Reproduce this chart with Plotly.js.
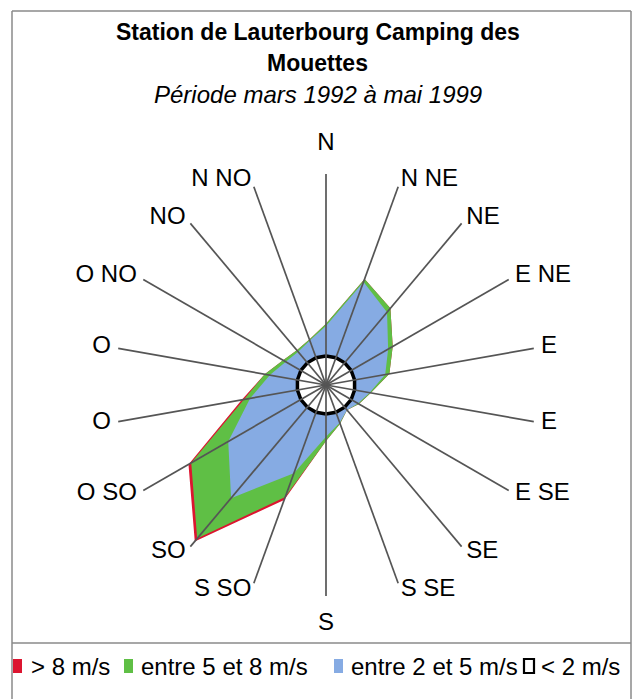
<!DOCTYPE html>
<html>
<head>
<meta charset="utf-8">
<script src="https://cdn.plot.ly/plotly-3.0.1.min.js"></script>
<style>html,body{margin:0;padding:0;background:#fff;}#chart{width:635px;height:700px;}</style>
</head>
<body>
<div id="chart"></div>
<script>
// Directions (degrees, clockwise from north) and their labels
const angles = [0, 20, 40, 60, 80, 100, 120, 140, 160, 180, 200, 220, 240, 260, 280, 300, 320, 340];
const dirLabels = ['N', 'N NE', 'NE', 'E NE', 'E', 'E', 'E SE', 'SE', 'S SE', 'S', 'S SO', 'SO', 'O SO', 'O', 'O', 'O NO', 'NO', 'N NO'];

// Series values (cumulative frequency, %)
const sup8 = [5.8, 10.7, 9.5, 7.3, 6.1, 4.3, 3.6, 3.1, 3.9, 5.3, 11.6, 19.35, 15.05, 8.1, 5.9, 4.7, 4.3, 4.6];
const entre5et8 = [5.8, 10.7, 9.5, 7.3, 6.1, 4.3, 3.6, 3.1, 3.9, 5.3, 11.3, 19.0, 14.75, 7.9, 5.9, 4.7, 4.3, 4.6];
const entre2et5 = [5.6, 10.4, 9.0, 6.8, 5.7, 4.2, 3.5, 3.1, 3.8, 4.9, 8.9, 14.0, 10.7, 7.3, 5.4, 4.4, 4.1, 4.5];
const inf2 = [2.75, 2.75, 2.75, 2.75, 2.75, 2.75, 2.75, 2.75, 2.75, 2.75, 2.75, 2.75, 2.75, 2.75, 2.75, 2.75, 2.75, 2.75];

const seriesNames = ['> 8 m/s', 'entre 5 et 8 m/s', 'entre 2 et 5 m/s', '< 2 m/s'];
const seriesColors = ['#dc1530', '#5fbf45', '#86abe3', '#ffffff'];
const rMax = 20;          // end of the spokes
const rRange = 23.2;      // radial range, leaves room for the direction labels

const FONT = 'Arial, "Liberation Sans", sans-serif';

function areaTrace(vals, name, fill, lineColor, lineWidth) {
  return {
    type: 'scatterpolar', mode: 'lines', name: name,
    theta: angles.concat([angles[0]]), r: vals.concat([vals[0]]),
    fill: 'toself', fillcolor: fill,
    line: {color: lineColor, width: lineWidth},
    showlegend: false, hoverinfo: 'skip'
  };
}

// spokes built from the direction list
const spokeTheta = [], spokeR = [];
angles.forEach(a => { spokeTheta.push(a, a, null); spokeR.push(0, rMax, null); });

// direction labels placed just beyond the spoke ends
const labelR = angles.map(a => rMax * (a === 0 ? 1.14 : a === 180 ? 1.135 : 1.035));
const labelPos = angles.map(a => (a % 180 === 0 ? 'middle center' : (a < 180 ? 'middle right' : 'middle left')));

const traces = [
  areaTrace(sup8, seriesNames[0], seriesColors[0], 'rgba(0,0,0,0)', 0),
  areaTrace(entre5et8, seriesNames[1], seriesColors[1], 'rgba(0,0,0,0)', 0),
  areaTrace(entre2et5, seriesNames[2], seriesColors[2], 'rgba(0,0,0,0)', 0),
  areaTrace(inf2, seriesNames[3], seriesColors[3], '#000000', 3.5),
  {type: 'scatterpolar', mode: 'lines', theta: spokeTheta, r: spokeR,
   line: {color: '#555555', width: 1.7}, showlegend: false, hoverinfo: 'skip', connectgaps: false},
  {type: 'scatterpolar', mode: 'text', theta: angles, r: labelR, text: dirLabels,
   textposition: labelPos, textfont: {family: FONT, size: 24, color: '#000'},
   cliponaxis: false, showlegend: false, hoverinfo: 'skip'}
];

const W = 635, H = 700;
const px = x => x / W, py = y => 1 - y / H;

// legend (keys + texts)
const legendKeyX = [13, 124, 334, 524];
const legendTextX = [29, 139, 349, 539];
const legendY = 666;

const annotations = [
  {text: '<b>Station de Lauterbourg Camping des</b>', x: 0.5, y: py(32), font: {size: 23}},
  {text: '<b>Mouettes</b>', x: 0.5, y: py(63), font: {size: 23}},
  {text: '<i>Période mars 1992 à mai 1999</i>', x: 0.5, y: py(95), font: {size: 24}}
].concat(seriesNames.map((n, i) => ({
  text: n.replace('>', '&gt;').replace('<', '&lt;'), x: px(legendTextX[i]), y: py(legendY),
  xanchor: 'left', font: {size: 24}
}))).map(a => Object.assign({xref: 'paper', yref: 'paper', showarrow: false, yanchor: 'middle',
  xanchor: 'center', font: {}}, a, {font: Object.assign({family: FONT, color: '#000'}, a.font)}));

const frame = '#8a8a8a';
const shapes = [
  {type: 'line', x0: px(12), x1: px(631), y0: py(11), y1: py(11)},
  {type: 'line', x0: px(12), x1: px(12), y0: py(11), y1: py(699)},
  {type: 'line', x0: px(631), x1: px(631), y0: py(11), y1: py(699)},
  {type: 'line', x0: px(12), x1: px(631), y0: py(643), y1: py(643)}
].map(s => Object.assign({xref: 'paper', yref: 'paper', line: {color: frame, width: 1.5}}, s))
 .concat(seriesColors.map((c, i) => ({
   type: 'rect', xref: 'paper', yref: 'paper',
   x0: px(legendKeyX[i]), x1: px(legendKeyX[i] + (i === 3 ? 10 : 9)),
   y0: py(legendY - 7), y1: py(legendY + 7),
   fillcolor: c, line: {color: i === 3 ? '#000' : c, width: i === 3 ? 2.2 : 0}
 })));

const layout = {
  width: W, height: H,
  margin: {l: 0, r: 0, t: 0, b: 0},
  paper_bgcolor: '#ffffff',
  font: {family: FONT, color: '#000'},
  showlegend: false,
  polar: {
    domain: {
      x: [(326 - 211 * rRange / rMax) / W, (326 + 211 * rRange / rMax) / W],
      y: [1 - (385 + 211 * rRange / rMax) / H, 1 - (385 - 211 * rRange / rMax) / H]
    },
    bgcolor: 'rgba(0,0,0,0)',
    radialaxis: {visible: false, range: [0, rRange]},
    angularaxis: {
      rotation: 90, direction: 'clockwise', thetaunit: 'degrees',
      tickmode: 'array', tickvals: angles, ticktext: dirLabels,
      showgrid: false, showline: false, showticklabels: false, ticks: ''
    }
  },
  annotations: annotations,
  shapes: shapes
};

Plotly.newPlot('chart', traces, layout, {staticPlot: true});
</script>
</body>
</html>
